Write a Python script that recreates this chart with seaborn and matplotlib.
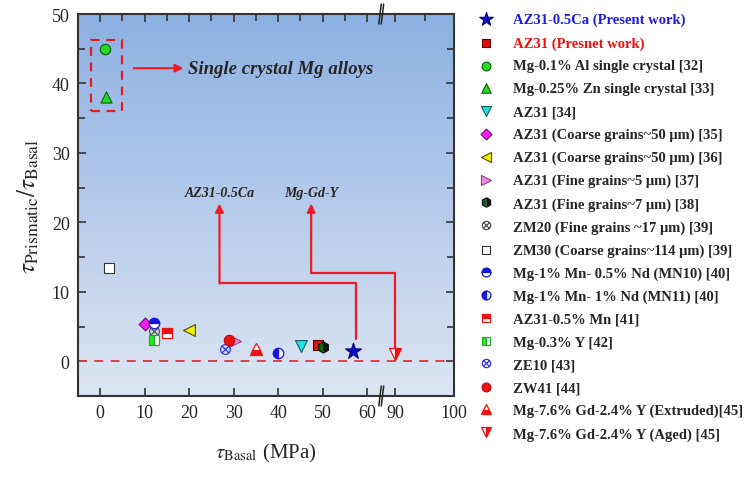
import numpy as np
import matplotlib
matplotlib.use("Agg")
import matplotlib.pyplot as plt
import matplotlib.transforms as mtransforms
from matplotlib.path import Path
from matplotlib.patches import Rectangle
from matplotlib.colors import LinearSegmentedColormap
import seaborn as sns

# datos
etiquetas = [
    "AZ31-0.5Ca (Present work)", "AZ31 (Presnet work)",
    "Mg-0.1% Al single crystal [32]", "Mg-0.25% Zn single crystal [33]",
    "AZ31 [34]", "AZ31 (Coarse grains~50 μm) [35]",
    "AZ31 (Coarse grains~50 μm) [36]", "AZ31 (Fine grains~5 μm) [37]",
    "AZ31 (Fine grains~7 μm) [38]", "ZM20 (Fine grains ~17 μm) [39]",
    "ZM30 (Coarse grains~114 μm) [39]", "Mg-1% Mn- 0.5% Nd (MN10) [40]",
    "Mg-1% Mn- 1% Nd (MN11) [40]", "AZ31-0.5% Mn [41]", "Mg-0.3% Y [42]",
    "ZE10 [43]", "ZW41 [44]", "Mg-7.6% Gd-2.4% Y (Extruded)[45]",
    "Mg-7.6% Gd-2.4% Y (Aged) [45]",
]
tau_basal = [56.9, 48.9, 1.0, 1.3, 45.1, 10.0, 19.9, 30.3, 50.0, 12.0,
             2.0, 12.0, 40.0, 15.0, 12.0, 28.0, 29.0, 35.0, 90.0]
ratio = [1.5, 2.3, 45.0, 38.1, 2.2, 5.4, 4.5, 2.9, 2.0, 4.4,
         13.4, 5.5, 1.15, 4.0, 3.1, 1.7, 3.0, 1.8, 1.0]

xticks_major = [0, 10, 20, 30, 40, 50, 60, 90, 100]
xticks_minor = [5, 15, 25, 35, 45, 55, 95]

# flechas de anotacion (x, y)
flecha_ca_x = [57.5, 57.5, 26.8, 26.8]
flecha_ca_y = [3.2, 11.2, 11.2, 22.7]
flecha_gdy_x = [90.0, 90.0, 47.4, 47.4]
flecha_gdy_y = [1.6, 12.7, 12.7, 22.7]

# marcador: circulo con cruz
cruz = Path.make_compound_path(
    Path.unit_circle(),
    Path([(-0.7, -0.7), (0.7, 0.7)]),
    Path([(-0.7, 0.7), (0.7, -0.7)]),
)

# estilos (marker, cara, cara_alt, borde, fillstyle, tamano)
estilos = [
    ("*", "#0c0cd0", None, "#00007a", "full", 12),
    ("s", "#e01010", None, "#5a0000", "full", 6.5),
    ("o", "#22dd22", None, "#125a12", "full", 7.5),
    ("^", "#22dd22", None, "#125a12", "full", 8),
    ("v", "#22e2e2", None, "#135a5a", "full", 8.5),
    ("D", "#ee22ee", None, "#661166", "full", 6.5),
    ("<", "#f2f200", None, "#4a4a00", "full", 8.5),
    (">", "#ee88ee", None, "#884488", "full", 8.5),
    ("h", "#0b6a0b", "#111111", "#111111", "left", 8),
    (cruz, "none", None, "#505050", "none", 7),
    ("s", "white", None, "#333333", "full", 6.5),
    ("o", "#1515dd", "white", "#1515dd", "top", 7.5),
    ("o", "#1515dd", "white", "#1515dd", "left", 7.5),
    ("s", "#ee1111", "white", "#ee1111", "top", 6.5),
    ("s", "#22ee22", "white", "#22aa22", "left", 6.5),
    (cruz, "none", None, "#3535ee", "none", 7),
    ("o", "#ee1111", None, "#cc0000", "full", 7.5),
    ("^", "#ee1111", "white", "#ee1111", "bottom", 8.5),
    ("v", "#ee1111", "white", "#ee1111", "right", 8.5),
]
orden_z = [5] * len(etiquetas)
orden_z[16] = 6
orden_z[8] = 6

# escala del eje x con corte entre 60 y 90
def directa(x):
    x = np.asarray(x, dtype=float)
    return np.where(x <= 60, x, np.where(x <= 90, 60 + (x - 60) * 0.21, 66.3 + (x - 90) * 1.32))

def inversa(u):
    u = np.asarray(u, dtype=float)
    return np.where(u <= 60, u, np.where(u <= 66.3, 60 + (u - 60) / 0.21, 90 + (u - 66.3) / 1.32))


sns.set_style("ticks")
plt.rcParams["font.family"] = ["Liberation Serif", "DejaVu Serif"]
plt.rcParams["mathtext.fontset"] = "stix"

fig = plt.figure(figsize=(7.55, 4.85), dpi=100)
ax = fig.add_axes([78 / 755, 1 - 397 / 485, 376 / 755, 382 / 485])
ax.set_xscale("function", functions=(directa, inversa))

# fondo degradado
cmap = LinearSegmentedColormap.from_list("fondo", ["#dde6f3", "#8db0e2"])
grad = np.linspace(0, 1, 256).reshape(-1, 1)
ax.imshow(grad, extent=[0, 1, 0, 1], transform=ax.transAxes, aspect="auto",
          cmap=cmap, origin="lower", zorder=0)

handles = []
for i, etq in enumerate(etiquetas):
    m, cara, alt, borde, fs, tam = estilos[i]
    if fs == "full" and alt is None:
        sns.scatterplot(x=[tau_basal[i]], y=[ratio[i]], marker=m, s=tam ** 2,
                        color=cara, edgecolor=borde, linewidth=0.8,
                        zorder=orden_z[i], ax=ax, label=etq, legend=False)
        handles.append(ax.collections[-1])
    else:
        kw = dict(marker=m, markersize=tam, markeredgecolor=borde,
                  markeredgewidth=0.9, linestyle="none", zorder=orden_z[i], label=etq)
        if fs == "none":
            kw["markerfacecolor"] = "none"
        else:
            kw["markerfacecolor"] = cara
            kw["markerfacecoloralt"] = alt
            kw["fillstyle"] = fs
        (ln,) = ax.plot([tau_basal[i]], [ratio[i]], **kw)
        handles.append(ln)

# linea cero y recuadro de monocristales
ax.axhline(0, color="#e03535", lw=1.3, ls=(0, (5, 4)), zorder=2)
ax.add_patch(Rectangle((-2, 36), 7, 10.3, fill=False, ec="#e02020", lw=1.6,
                       ls=(0, (4, 3)), zorder=3))
ax.annotate("", xy=(18.7, 42.2), xytext=(7.5, 42.2),
            arrowprops=dict(arrowstyle="-|>", color="#ee1c25", lw=1.5,
                            mutation_scale=12, shrinkA=0, shrinkB=0))
ax.text(19.8, 42.2, "Single crystal Mg alloys", fontsize=13.5, fontweight="bold",
        fontstyle="italic", va="center", ha="left")

# flechas hacia AZ31-0.5Ca y Mg-Gd-Y
for fx, fy in [(flecha_ca_x, flecha_ca_y), (flecha_gdy_x, flecha_gdy_y)]:
    ax.plot(fx[:3], fy[:3], color="#ee1c25", lw=1.6, zorder=4)
    ax.annotate("", xy=(fx[3], fy[3]), xytext=(fx[2], fy[2]),
                arrowprops=dict(arrowstyle="-|>", color="#ee1c25", lw=1.6,
                                mutation_scale=12, shrinkA=0, shrinkB=0), zorder=4)
ax.text(flecha_ca_x[3], 24.3, "AZ31-0.5Ca", fontsize=10, fontweight="bold",
        fontstyle="italic", ha="center", va="center")
ax.text(flecha_gdy_x[3], 24.3, "Mg-Gd-Y", fontsize=10, fontweight="bold",
        fontstyle="italic", ha="center", va="center")

ax.set_xlim(-5, 100)
ax.set_ylim(-5, 50)
ax.set_xticks(xticks_major)
ax.set_xticklabels(["0", "10", "20", "30", "40", "50", "60", "90", "100"])
ax.set_xticks(xticks_minor, minor=True)
ax.set_yticks([0, 10, 20, 30, 40, 50])
ax.set_yticks([-5, 5, 15, 25, 35, 45], minor=True)
ax.tick_params(axis="both", which="both", direction="in", labelsize=13,
               color="#333333", width=1.2)
ax.tick_params(axis="both", which="major", length=6, pad=6)
ax.tick_params(axis="both", which="minor", length=5)
ax.tick_params(axis="y", which="both", right=True)
ax.tick_params(axis="x", which="major", top=True)
ax.tick_params(axis="x", which="minor", bottom=False, top=True)

for s in ax.spines.values():
    s.set_color("#333333")
    s.set_linewidth(1.5)

# marcas del corte
tr = mtransforms.blended_transform_factory(ax.transData, ax.transAxes)
xb = 75
for yb in (0, 1):
    for d in (-1.3, 1.3):
        ax.plot([xb + d - 1.3, xb + d + 1.3], [yb - 0.026, yb + 0.026], transform=tr,
                color="#222222", lw=1.1, clip_on=False, zorder=10)

ax.set_xlabel(r"$\tau_{\mathrm{Basal}}$ (MPa)", fontsize=15, labelpad=14)
ax.set_ylabel(r"$\tau_{\mathrm{Prismatic}}/\tau_{\mathrm{Basal}}$", fontsize=18, labelpad=8)

leg = fig.legend(handles=handles, labels=etiquetas, loc="upper left",
                 bbox_to_anchor=(479 / 755, 1 - 14 / 485), frameon=False,
                 prop={"family": "Liberation Serif", "weight": "bold", "size": 10.5},
                 markerscale=0.85, handlelength=1.0, handletextpad=1.3,
                 labelspacing=0.66, borderpad=0, borderaxespad=0)
leg.get_texts()[0].set_color("#1c1ce0")
leg.get_texts()[1].set_color("#ee1111")

fig.savefig("out.png", dpi=100)
